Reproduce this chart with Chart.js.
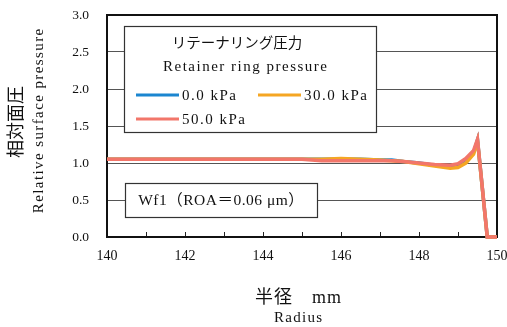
<!DOCTYPE html>
<html>
<head>
<meta charset="utf-8">
<script src="https://cdn.jsdelivr.net/npm/chart.js@4.4.1/dist/chart.umd.min.js"></script>
<style>
  html, body { margin: 0; padding: 0; background: #fff; }
  #wrap { width: 507px; height: 327px; position: relative; }
</style>
</head>
<body>
<div id="wrap"><canvas id="c" width="507" height="327"></canvas></div>
<script>
// Radius positions (mm) and relative surface pressure for each retainer ring pressure
const radius    = [140, 141, 142, 143, 144, 145, 145.5, 146, 146.5, 147, 147.3, 147.6, 148, 148.4, 148.8, 149.0, 149.2, 149.4, 149.5, 149.75, 149.85, 150];
const p0kPa     = [1.05, 1.05, 1.05, 1.05, 1.05, 1.05, 1.05, 1.05, 1.05, 1.04, 1.04, 1.02, 1.00, 0.97, 0.95, 0.96, 1.03, 1.14, 1.31, 0.00, 0.00, 0.00];
const p30kPa    = [1.05, 1.05, 1.05, 1.05, 1.05, 1.05, 1.05, 1.06, 1.05, 1.04, 1.03, 1.02, 0.99, 0.96, 0.93, 0.94, 1.00, 1.12, 1.30, 0.00, 0.00, 0.00];
const p50kPa    = [1.05, 1.05, 1.05, 1.05, 1.05, 1.05, 1.03, 1.03, 1.03, 1.03, 1.03, 1.02, 1.00, 0.98, 0.97, 0.99, 1.06, 1.17, 1.32, 0.00, 0.00, 0.00];
const seriesLabels = ['0.0 kPa', '30.0 kPa', '50.0 kPa'];
const seriesColors = ['#1b86d0', '#f5a623', '#f2766a'];
const yTicks = [0, 0.5, 1.0, 1.5, 2.0, 2.5, 3.0];
const xTicks = [140, 142, 144, 146, 148, 150];

const SERIF = '"Liberation Serif", "Noto Sans CJK JP", serif';

function toPts(ys) { return radius.map((x, i) => ({ x: x, y: ys[i] })); }

function text(ctx, str, x, y, size, spacing, align) {
  ctx.font = size + 'px ' + SERIF;
  ctx.letterSpacing = (spacing || 0) + 'px';
  ctx.textAlign = align || 'center';
  ctx.fillText(str, x + (align === 'left' ? 0 : (spacing || 0) / 2), y);
  ctx.letterSpacing = '0px';
}

const boxesAndFrame = {
  id: 'boxesAndFrame',
  beforeDatasetsDraw(chart) {
    const ctx = chart.ctx;
    const a = chart.chartArea;
    const xs = chart.scales.x;
    ctx.save();
    ctx.textBaseline = 'middle';
    // legend box
    ctx.fillStyle = '#fff';
    ctx.strokeStyle = '#333';
    ctx.lineWidth = 1.2;
    ctx.fillRect(124, 26, 253, 106);
    ctx.strokeRect(124.5, 26.5, 252, 106);
    ctx.fillStyle = '#111';
    text(ctx, 'リテーナリング圧力', 237, 44, 14.5, 0);
    text(ctx, 'Retainer ring pressure', 245, 67, 15, 1.5);
    const items = [[136, 95], [258, 95], [136, 119]];
    chart.data.datasets.forEach((ds, i) => {
      const [lx, ly] = items[i];
      ctx.strokeStyle = ds.borderColor;
      ctx.lineWidth = 3;
      ctx.beginPath();
      ctx.moveTo(lx, ly);
      ctx.lineTo(lx + 43, ly);
      ctx.stroke();
      ctx.fillStyle = '#111';
      text(ctx, ds.label, lx + 46, ly + 1, 15, 1.5, 'left');
    });
    // annotation box
    ctx.fillStyle = '#fff';
    ctx.strokeStyle = '#333';
    ctx.lineWidth = 1.2;
    ctx.fillRect(125, 183, 193, 34);
    ctx.strokeRect(125.5, 183.5, 192, 34);
    ctx.fillStyle = '#111';
    text(ctx, 'Wf1（ROA＝0.06 μm）', 221, 201, 15.5, 0.5);
    // minor tick marks on the radius axis, pointing inward
    ctx.strokeStyle = '#222';
    ctx.lineWidth = 1;
    for (let v = 141; v < 150; v++) {
      const px = Math.round(xs.getPixelForValue(v)) + 0.5;
      ctx.beginPath();
      ctx.moveTo(px, a.bottom);
      ctx.lineTo(px, a.bottom - 5);
      ctx.stroke();
    }
    // plot frame
    ctx.strokeStyle = '#111';
    ctx.lineWidth = 2;
    ctx.strokeRect(a.left, a.top, a.right - a.left, a.bottom - a.top);
    ctx.restore();
  },
  afterDatasetsDraw(chart) {
    const ctx = chart.ctx;
    ctx.save();
    // axis titles
    ctx.fillStyle = '#111';
    ctx.textBaseline = 'middle';
    text(ctx, '半径　mm', 298, 298, 18, 1);
    text(ctx, 'Radius', 298, 318, 15, 1.3);
    ctx.save();
    ctx.translate(17, 122);
    ctx.rotate(-Math.PI / 2);
    text(ctx, '相対面圧', 0, 0, 18, 0);
    ctx.restore();
    ctx.save();
    ctx.translate(39, 121);
    ctx.rotate(-Math.PI / 2);
    text(ctx, 'Relative surface pressure', 0, 0, 15, 1.4);
    ctx.restore();
    ctx.restore();
  }
};

new Chart(document.getElementById('c'), {
  type: 'line',
  data: {
    datasets: [p0kPa, p30kPa, p50kPa].map((ys, i) => ({
      label: seriesLabels[i],
      data: toPts(ys),
      borderColor: seriesColors[i],
      backgroundColor: seriesColors[i],
      borderWidth: 3.5,
      pointRadius: 0,
      tension: 0,
      clip: 6,
      order: 3 - i
    }))
  },
  options: {
    responsive: false,
    animation: false,
    devicePixelRatio: 1,
    layout: { padding: { top: 15, right: 10, left: 0, bottom: 0 } },
    plugins: { legend: { display: false }, tooltip: { enabled: false } },
    scales: {
      x: {
        type: 'linear',
        min: 140, max: 150,
        afterBuildTicks(scale) { scale.ticks = xTicks.map(v => ({ value: v })); },
        afterFit(scale) { scale.height = 90; scale.paddingLeft = 0; scale.paddingRight = 0; },
        grid: { display: false, drawTicks: false },
        border: { display: false },
        ticks: {
          padding: 11,
          color: '#111',
          font: { family: SERIF, size: 14 },
          maxRotation: 0,
          callback: v => String(v)
        }
      },
      y: {
        min: 0, max: 3,
        afterBuildTicks(scale) { scale.ticks = yTicks.map(v => ({ value: v })); },
        afterFit(scale) { scale.width = 107; scale.paddingTop = 0; scale.paddingBottom = 0; },
        grid: { color: '#555', lineWidth: 1, drawTicks: false },
        border: { display: false },
        ticks: {
          padding: 18,
          color: '#111',
          font: { family: SERIF, size: 13.5 },
          callback: v => Number(v).toFixed(1)
        }
      }
    }
  },
  plugins: [boxesAndFrame]
});
</script>
</body>
</html>
